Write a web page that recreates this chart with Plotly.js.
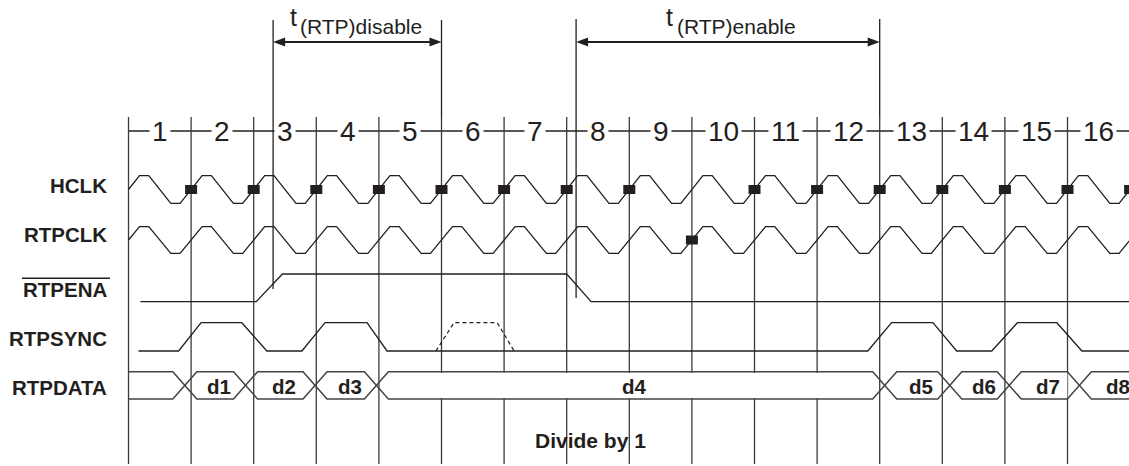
<!DOCTYPE html>
<html>
<head>
<meta charset="utf-8">
<script src="https://cdn.plot.ly/plotly-3.0.1.min.js"></script>
<style>
html,body{margin:0;padding:0;background:#ffffff;overflow:hidden;}
#chart{width:1129px;height:466px;}
</style>
</head>
<body>
<div id="chart"></div>
<script>
// ===== data (time in clock cycles) =====
const cycleLabels = ['1','2','3','4','5','6','7','8','9','10','11','12','13','14','15','16'];
const signalNames = ['HCLK', 'RTPCLK', 'RTPENA', 'RTPSYNC', 'RTPDATA'];
const hclkSampleEdges = [1, 2, 3, 4, 5, 6, 7, 8, 10, 11, 12, 13, 14, 15, 16];
const rtpclkSampleEdges = [9];
const rtpenaTimes  = [0.19, 2.04, 2.46, 7.00, 7.39, 16.5];
const rtpenaLevels = [0, 0, 1, 1, 0, 0];
const rtpsyncTimes  = [0.16, 0.80, 1.16, 1.81, 2.21, 2.77, 3.14, 3.81, 4.13, 11.81, 12.19, 12.85, 13.23, 13.79, 14.20, 14.83, 15.23, 16.5];
const rtpsyncLevels = [0, 0, 1, 1, 0, 0, 1, 1, 0, 0, 1, 1, 0, 0, 1, 1, 0, 0];
const rtpsyncOptTimes  = [4.91, 5.20, 5.89, 6.16];
const rtpsyncOptLevels = [0, 1, 1, 0];
const dataTransitions = [0.90, 1.87, 2.98, 3.96, 12.08, 13.12, 14.07, 15.19];
const dataLabels = ['d1', 'd2', 'd3', 'd4', 'd5', 'd6', 'd7', 'd8'];
const dataLastEnd = 16.3;
const tDisable = [2.31, 5.00];
const tEnable  = [7.15, 12.00];
const tDisableLabel = ['t', '(RTP)disable'];
const tEnableLabel  = ['t', '(RTP)enable'];
const caption = 'Divide by 1';

// ===== geometry / style (pixel layout of the drawing) =====
const W = 1129, H = 466;
const X0 = 128.5, P = 62.6;               // pixel of cycle 0, pixels per cycle
const toCyc = p => (p - X0) / P;
const XL = toCyc(0), XR = toCyc(W);
const INK = '#231f20';
const GRIDC = '#3a3a3a';
const FONT = 'Liberation Sans, Arial, Helvetica, sans-serif';
const lane = {
  HCLK:    {hi: 175.7, lo: 203.3, label: 185},
  RTPCLK:  {hi: 226.7, lo: 253.3, label: 234.2},
  RTPENA:  {hi: 274.0, lo: 301.7, label: 289},
  RTPSYNC: {hi: 322.7, lo: 351.0, label: 338.7},
  RTPDATA: {hi: 371.7, lo: 399.0, label: 387.5}
};
const GRID_TOP = 117, GRID_BOT = 464, NUM_Y = 131, ARROW_Y = 42, MARK_TOP = 20;
const markBottom = {disable: 289, enable: 298};
const EDGE = 11 / P;    // half clock edge
const XH = 12 / P;      // half data crossing
const MKW = 6 / P, MKH = 4.5;  // sample marker half sizes
const LABEL_X = toCyc(109);

const traces = [];
const lineTrace = (x, y, color, width, dash) => ({
  x, y, mode: 'lines', hoverinfo: 'skip',
  line: {color, width, dash: dash || 'solid'}
});
const polyTrace = (x, y, color) => ({
  x, y, mode: 'lines', fill: 'toself', fillcolor: color, hoverinfo: 'skip',
  line: {color: color, width: 0}
});

// cycle ruler line
traces.push(lineTrace([0, XR + 1], [NUM_Y, NUM_Y], INK, 1.3));

// vertical grid lines at each cycle boundary
{
  const gx = [], gy = [];
  for (let k = 0; k <= cycleLabels.length; k++) { gx.push(k, k, null); gy.push(GRID_TOP, GRID_BOT, null); }
  traces.push(lineTrace(gx, gy, GRIDC, 1.3));
}

// timing reference lines
traces.push(lineTrace([tDisable[0], tDisable[0], null, tDisable[1], tDisable[1]],
                      [MARK_TOP, markBottom.disable, null, MARK_TOP, GRID_TOP], INK, 1.3));
traces.push(lineTrace([tEnable[0], tEnable[0], null, tEnable[1], tEnable[1]],
                      [MARK_TOP - 1, markBottom.enable, null, MARK_TOP - 1, GRID_TOP], INK, 1.3));

// double arrows
function arrow(a, b) {
  const L = 12 / P, hw = 4.6;
  traces.push(lineTrace([a + L * 0.5, b - L * 0.5], [ARROW_Y, ARROW_Y], INK, 2.2));
  traces.push(polyTrace([a, a + L, a + L, a, null, b, b - L, b - L, b],
                        [ARROW_Y, ARROW_Y - hw, ARROW_Y + hw, ARROW_Y, null, ARROW_Y, ARROW_Y - hw, ARROW_Y + hw, ARROW_Y], INK));
}
arrow(tDisable[0], tDisable[1]);
arrow(tEnable[0], tEnable[1]);

// clocks
function clock(ln) {
  const m = (ln.hi + ln.lo) / 2;
  const xs = [0], ys = [m];
  for (let k = 0; k <= cycleLabels.length; k++) {
    if (k > 0) { xs.push(k - EDGE); ys.push(ln.lo); }
    xs.push(k + EDGE, k + 0.5 - EDGE, k + 0.5 + EDGE);
    ys.push(ln.hi, ln.hi, ln.lo);
  }
  traces.push(lineTrace(xs, ys, INK, 1.3));
}
clock(lane.HCLK);
clock(lane.RTPCLK);

// level signals
const lvl = (ln, arr) => arr.map(v => v ? ln.hi : ln.lo);
traces.push(lineTrace(rtpenaTimes, lvl(lane.RTPENA, rtpenaLevels), INK, 1.3));
traces.push(lineTrace(rtpsyncTimes, lvl(lane.RTPSYNC, rtpsyncLevels), INK, 1.3));
traces.push(lineTrace(rtpsyncOptTimes, lvl(lane.RTPSYNC, rtpsyncOptLevels), INK, 1.2, '4px,3px'));

// data bus: white interiors (hide grid lines), then rails with crossings
const segEnds = dataTransitions.slice(1).concat([dataLastEnd]);
{
  const mx = [], my = [];
  const ln = lane.RTPDATA;
  dataTransitions.forEach((t, i) => {
    const a = t + XH, b = segEnds[i] - XH;
    mx.push(a, b, b, a, a, null);
    my.push(ln.hi + 1, ln.hi + 1, ln.lo - 1, ln.lo - 1, ln.hi + 1, null);
  });
  traces.push(polyTrace(mx, my, '#ffffff'));
  let ca = ln.hi, cb = ln.lo;
  const ax = [0], ay = [ca], bx = [0], by = [cb];
  dataTransitions.forEach(t => {
    ax.push(t - XH, t + XH); ay.push(ca, cb);
    bx.push(t - XH, t + XH); by.push(cb, ca);
    const tmp = ca; ca = cb; cb = tmp;
  });
  ax.push(XR + 1); ay.push(ca); bx.push(XR + 1); by.push(cb);
  traces.push(lineTrace(ax, ay, '#444444', 1.5));
  traces.push(lineTrace(bx, by, '#444444', 1.5));
}

// sample markers
function markers(edges, ln) {
  const m = (ln.hi + ln.lo) / 2;
  const xs = [], ys = [];
  edges.forEach(k => {
    xs.push(k - MKW, k + MKW, k + MKW, k - MKW, k - MKW, null);
    ys.push(m - MKH, m - MKH, m + MKH, m + MKH, m - MKH, null);
  });
  traces.push(polyTrace(xs, ys, INK));
}
markers(hclkSampleEdges, lane.HCLK);
markers(rtpclkSampleEdges, lane.RTPCLK);

// ===== annotations =====
const ann = [];
cycleLabels.forEach((c, i) => ann.push({
  x: i + 0.5, y: NUM_Y, text: c, showarrow: false, xanchor: 'center', yanchor: 'middle',
  font: {family: FONT, size: 28, color: INK}, bgcolor: '#ffffff', borderpad: 2
}));
signalNames.forEach(n => ann.push({
  x: LABEL_X, y: lane[n].label, text: n, showarrow: false, xanchor: 'right', yanchor: 'middle',
  font: {family: FONT, size: 20.5, color: INK, weight: 700}
}));
dataLabels.forEach((d, i) => ann.push({
  x: (dataTransitions[i] + segEnds[i]) / 2 + 4 / P, y: (lane.RTPDATA.hi + lane.RTPDATA.lo) / 2 + 1,
  text: d, showarrow: false, xanchor: 'center', yanchor: 'middle',
  font: {family: FONT, size: 20.5, color: INK, weight: 700}
}));
function tLabel(lbl, tx) {
  ann.push({x: tx, y: 16.7, text: lbl[0], showarrow: false, xanchor: 'center', yanchor: 'middle',
            font: {family: FONT, size: 25, color: INK}});
  ann.push({x: tx + 5 / P, y: 26.4, text: lbl[1], showarrow: false, xanchor: 'left', yanchor: 'middle',
            font: {family: FONT, size: 21, color: INK}});
}
tLabel(tDisableLabel, toCyc(293));
tLabel(tEnableLabel, toCyc(669.5));
ann.push({x: toCyc(590), y: 440, text: caption, showarrow: false, xanchor: 'center', yanchor: 'middle',
          font: {family: FONT, size: 21, color: INK, weight: 700}});

const layout = {
  width: W, height: H, autosize: false,
  margin: {l: 0, r: 0, t: 0, b: 0, pad: 0},
  paper_bgcolor: '#ffffff', plot_bgcolor: '#ffffff',
  showlegend: false,
  xaxis: {range: [XL, XR], visible: false, fixedrange: true},
  yaxis: {range: [H, 0], visible: false, fixedrange: true},
  annotations: ann,
  shapes: [{
    type: 'line', xref: 'paper', yref: 'y', x0: 22 / W, x1: 110 / W, y0: 278.3, y1: 278.3,
    line: {color: INK, width: 1.5}
  }]
};

Plotly.newPlot('chart', traces, layout, {staticPlot: true, displayModeBar: false});
</script>
</body>
</html>
